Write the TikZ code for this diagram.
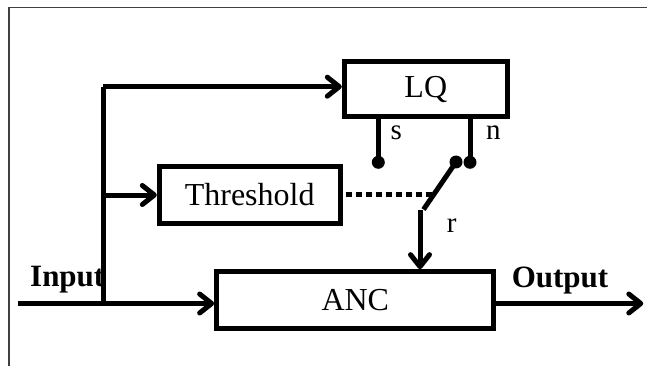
\documentclass[tikz,border=0pt]{standalone}
\usepackage{fontspec}
\setmainfont{Liberation Serif}
\usetikzlibrary{arrows.meta,calc}
\begin{document}
\begin{tikzpicture}[x=1pt,y=-1pt,
  blk/.style={draw,line width=5pt,inner sep=0pt,font=\fontsize{32}{32}\selectfont},
  wire/.style={line width=5pt},
  arr/.style={wire,-{Straight Barb[length=12pt,width=19pt,line cap=round,line join=round]}},
  lbl/.style={inner sep=0pt,anchor=base,font=\fontsize{29}{29}\selectfont},
  io/.style={inner sep=0pt,anchor=base,font=\fontsize{31}{31}\selectfont\bfseries},
  dot/.style={fill,circle,inner sep=0pt,minimum size=13pt}]
\useasboundingbox (0,0) rectangle (647,366);
\draw[line width=1.5pt,black!75] (9,366) -- (9,7.5) -- (647,7.5);

\node[blk,minimum width=163pt,minimum height=54.7pt] (LQ) at (425.8,89.3) {LQ};
\node[blk,minimum width=180.7pt,minimum height=56.7pt] (Th) at (249.7,195) {Threshold};
\node[blk,minimum width=277.3pt,minimum height=57.3pt] (ANC) at (355.3,300.3) {ANC};

\node[io,anchor=base west] (inL) at (30,286.7) {Input};
\node[io] (outL) at (560,287.3) {Output};
\node[lbl] (sL) at (396.3,139.3) {s};
\node[lbl] (nL) at (493.3,139.3) {n};
\node[lbl] (rL) at (451.7,232.7) {r};

\coordinate (inS) at (18.3,303.5);
\coordinate (jb) at (103.3,303.5);
\coordinate (jt) at (103.3,86.7);
\coordinate (jm) at (103.3,195);
\coordinate (outE) at (643.3,303.5);
\coordinate (sd) at (378.3,162.3);
\coordinate (nd) at (470,162.3);
\coordinate (swT) at (456,162);
\coordinate (swB) at (423.5,209.5);
\coordinate (rT) at (420,210);
\coordinate (dE) at (432,194);

\draw[wire] (jb) -- (jt);
\draw[arr] (jt) -- (jt -| LQ.west);
\draw[arr] (jm) -- (jm -| Th.west);
\draw[arr] (inS) -- (inS -| ANC.west);
\draw[arr] (outE -| ANC.east) -- (outE);

\draw[wire] (sd |- LQ.south) -- (sd);
\draw[wire] (nd |- LQ.south) -- (nd);
\node[dot] (sdot) at (sd) {};
\node[dot] (ndot) at (nd) {};
\node[dot] (swdot) at (swT) {};
\draw[wire] (swT) -- (swB);
\draw[arr] (rT) -- (rT |- ANC.north);
\draw[wire,dash pattern=on 6pt off 4pt] (Th.east |- dE) ++(3,0) -- (dE);
\end{tikzpicture}
\end{document}
